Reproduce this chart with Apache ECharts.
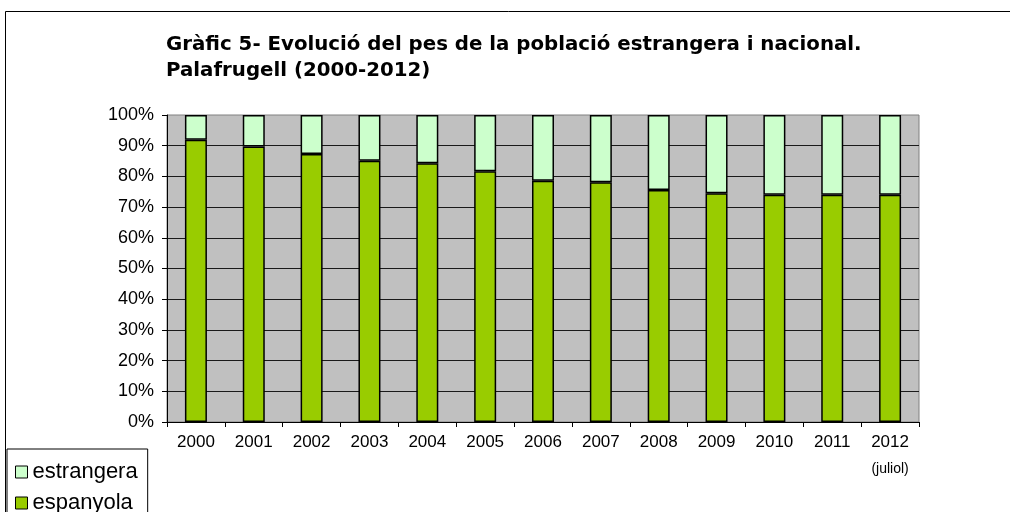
<!DOCTYPE html>
<html>
<head>
<meta charset="utf-8">
<script src="https://cdn.jsdelivr.net/npm/echarts@6/dist/echarts.min.js"></script>
<style>
html, body { margin: 0; padding: 0; background: #fff; }
#chart { width: 1010px; height: 512px; }
</style>
</head>
<body>
<div id="chart"></div>
<script>
var years = ['2000', '2001', '2002', '2003', '2004', '2005', '2006', '2007', '2008', '2009', '2010', '2011', '2012'];
var yearNotes = { '2012': '(juliol)' };
// percentatge de població espanyola i estrangera
var espanyola = [91.9, 89.7, 87.3, 85.1, 84.3, 81.7, 78.6, 78.1, 75.6, 74.5, 74.0, 74.0, 74.0];
var estrangera = [8.1, 10.3, 12.7, 14.9, 15.7, 18.3, 21.4, 21.9, 24.4, 25.5, 26.0, 26.0, 26.0];
var yTicks = [0, 10, 20, 30, 40, 50, 60, 70, 80, 90, 100];

var chart = echarts.init(document.getElementById('chart'));

chart.setOption({
    animation: false,
    backgroundColor: '#fff',
    title: {
        text: 'Gràfic 5- Evolució del pes de la població estrangera i nacional.\nPalafrugell (2000-2012)',
        left: 161,
        top: 27,
        textStyle: {
            fontFamily: 'DejaVu Sans',
            fontWeight: 'bold',
            fontSize: 19.8,
            lineHeight: 26,
            color: '#000'
        }
    },
    graphic: [{
        type: 'rect',
        silent: true,
        shape: { x: 5.5, y: 11.5, width: 1100, height: 600 },
        style: { fill: 'none', stroke: '#000', lineWidth: 1 }
    }],
    legend: {
        orient: 'vertical',
        left: 7,
        top: 449,
        height: 120,
        padding: [12, 10, 20, 8],
        itemGap: 9,
        itemWidth: 12,
        itemHeight: 12,
        itemStyle: { borderColor: '#000', borderWidth: 1 },
        backgroundColor: '#fff',
        borderColor: '#000',
        borderWidth: 1,
        borderRadius: 0,
        icon: 'rect',
        data: ['estrangera', 'espanyola'],
        textStyle: {
            fontFamily: 'Liberation Sans',
            fontSize: 22,
            color: '#000'
        }
    },
    grid: {
        left: 167,
        top: 115,
        width: 752,
        height: 307,
        show: true,
        backgroundColor: '#c0c0c0',
        borderColor: '#808080',
        borderWidth: 1
    },
    xAxis: {
        type: 'category',
        data: years,
        axisLine: { lineStyle: { color: '#000', width: 1 } },
        axisTick: { show: true, length: 5, lineStyle: { color: '#000' } },
        axisLabel: {
            interval: 0,
            color: '#000',
            fontFamily: 'Liberation Sans',
            fontSize: 17,
            lineHeight: 22,
            margin: 9,
            formatter: function (value) {
                if (yearNotes[value]) {
                    return value + '\n{s|' + yearNotes[value] + '}';
                }
                return value;
            },
            rich: {
                s: {
                    fontFamily: 'Liberation Sans',
                    fontSize: 14,
                    lineHeight: 32,
                    color: '#000'
                }
            }
        }
    },
    yAxis: {
        type: 'value',
        min: yTicks[0],
        max: yTicks[yTicks.length - 1],
        interval: 10,
        axisLine: { show: true, lineStyle: { color: '#000', width: 1 } },
        axisTick: { show: true, length: 5, lineStyle: { color: '#000' } },
        axisLabel: {
            color: '#000',
            fontFamily: 'Liberation Sans',
            fontSize: 18,
            margin: 13,
            formatter: '{value}%'
        },
        splitLine: {
            show: true,
            showMaxLine: false,
            lineStyle: { color: '#1a1a1a', width: 1 }
        }
    },
    series: [{
        name: 'espanyola',
        type: 'bar',
        stack: 'total',
        barWidth: 22,
        itemStyle: {
            color: '#99cc00',
            borderColor: '#000',
            borderWidth: 1.5
        },
        data: espanyola
    }, {
        name: 'estrangera',
        type: 'bar',
        stack: 'total',
        barWidth: 22,
        itemStyle: {
            color: '#ccffcc',
            borderColor: '#000',
            borderWidth: 1.5
        },
        data: estrangera
    }]
});
</script>
</body>
</html>
